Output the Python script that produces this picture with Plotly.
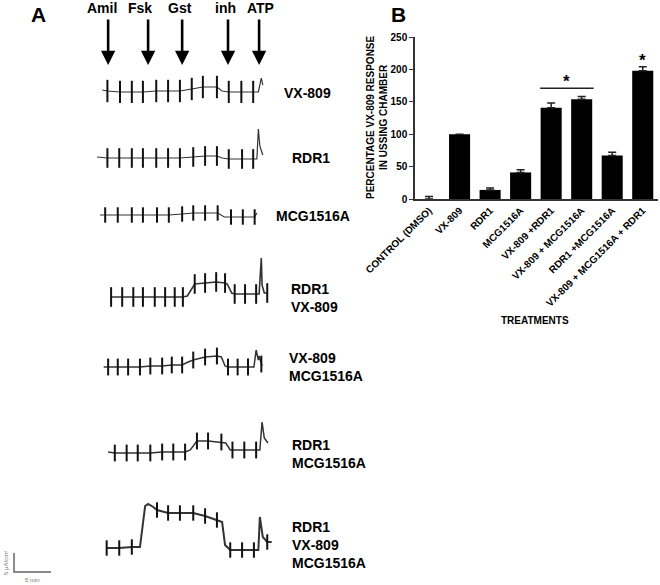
import plotly.graph_objects as go

W, H = 660, 585
FONT = "Liberation Sans, Arial, sans-serif"

# ---------------- Panel B data ----------------
treatments = ["CONTROL (DMSO)", "VX-809", "RDR1", "MCG1516A", "VX-809 +RDR1",
              "VX-809 + MCG1516A", "RDR1 +MCG1516A", "VX-809 + MCG1516A + RDR1"]
response_pct = [0, 100, 14, 41, 141, 154, 67, 198]
response_sem = [4, 0, 3, 4, 7, 4, 5, 6]
y_ticks = [0, 50, 100, 150, 200, 250]
sig_group = [4, 5]          # categories joined by the significance bar
sig_bar_y = 171
sig_star_y = [181, 213]
sig_star_x = [4.5, 7]

# ---------------- Panel A data (time in min, current in uA/cm2 rel. baseline) ----------------
drugs = ["Amil", "Fsk", "Gst", "inh", "ATP"]
drug_t = [1.1, 6.5, 11.1, 17.3, 21.5]

vx_t = [0.3, 1.0, 2.7, 4.3, 5.8, 7.6, 9.2, 10.8, 12.4, 13.9, 15.8, 16.5, 17.4, 19.1, 20.7, 21.4, 21.8, 22.0]
vx_i = [0.26, 0, -0.26, -0.26, -0.26, 0, 0, 0, 0.53, 1.05, 1.05, 0, -0.26, -0.26, -0.26, -0.26, 3.42, 1.58]
vx_p = [1, 2, 3, 4, 5, 6, 7, 8, 9, 10, 12, 13, 14]

rdr_t = [-0.4, 1.0, 2.6, 4.3, 5.8, 7.6, 9.2, 10.8, 12.6, 14.2, 15.8, 16.5, 17.4, 19.2, 20.7, 21.2, 21.4, 21.6, 22.0]
rdr_i = [0.26, 0, 0, 0, 0, 0, 0, 0, 0.26, 0.53, 0.53, 0, -0.26, -0.26, -0.26, -0.26, 7.63, 3.16, 0.79]
rdr_p = [1, 2, 3, 4, 5, 6, 7, 8, 9, 10, 12, 13, 14]

mcg_t = [0, 0.7, 2.4, 4.3, 5.8, 7.7, 9.3, 11.1, 12.6, 14.2, 15.9, 16.8, 17.7, 19.3, 20.9, 21.2]
mcg_i = [0, 0, 0, 0, 0, 0, 0, 0.26, 0.53, 0.53, 0.53, -0.53, -0.53, -0.53, -0.53, 0.53]
mcg_p = [1, 2, 3, 4, 5, 6, 7, 8, 9, 10, 12, 13, 14]

rv_t = [1.4, 1.5, 3.0, 4.5, 5.8, 7.4, 8.8, 10.1, 11.2, 11.8, 12.8, 14.2, 15.7, 16.9, 17.2, 17.8,
        18.2, 19.6, 21.1, 21.5, 21.8, 21.9, 22.2, 22.6, 22.7]
rv_i = [0, 0, 0, 0, 0, 0, 0, 0, 0, 0.26, 3.42, 3.68, 3.95, 3.68, 3.42, 1.05,
        0.79, 0.79, 0.79, 0.79, 10.26, 3.16, 1.05, 1.05, 1.05]
rv_p = [1, 2, 3, 4, 5, 6, 7, 8, 10, 11, 12, 13, 16, 17, 18, 23]

vm_t = [0.5, 1.1, 2.4, 3.8, 5.4, 6.8, 8.4, 9.7, 11.1, 11.9, 12.6, 14.2, 15.8, 16.4, 16.9, 17.3,
        18.6, 20.0, 20.8, 21.1, 21.4, 21.5, 21.8, 21.9]
vm_i = [0, 0, 0, 0, 0, 0.26, 0.26, 0.53, 0.53, 1.32, 1.84, 2.63, 2.89, 2.63, 0.26, 0,
        0, 0, 0, 4.47, 1.84, 2.89, 0.79, 0.26]
vm_p = [1, 2, 3, 4, 5, 6, 7, 8, 10, 11, 12, 15, 16, 17, 22]

rm_t = [1.1, 2.0, 3.6, 5.1, 6.8, 8.4, 9.9, 11.5, 12.2, 13.1, 14.6, 16.4, 17.0, 17.6, 17.9, 19.5,
        21.1, 21.6, 21.9, 22.2, 22.7]
rm_i = [0.26, 0, 0, 0, 0, 0.26, 0.26, 0.26, 0.79, 3.16, 3.16, 2.89, 2.63, 0.79, 0.79, 0.79,
        0.79, 0.79, 8.16, 3.95, 2.63]
rm_p = [1, 2, 3, 4, 5, 6, 7, 9, 10, 11, 14, 15, 16]

all_t = [0.9, 2.6, 4.3, 5.4, 6.1, 6.5, 7.2, 7.7, 9.2, 10.8, 12.6, 14.2, 15.8, 16.5, 16.9, 17.3,
         17.6, 19.2, 20.8, 21.4, 21.6, 22.0, 22.6, 23.2]
all_i = [0, 0, 0.26, 0.26, 11.05, 11.58, 10.79, 10.0, 9.21, 9.21, 9.21, 8.42, 7.37, 6.84, 0.79, 0,
         -0.53, -0.53, -0.53, -0.53, 8.16, 2.89, 1.58, 1.58]
all_p = [0, 1, 2, 7, 8, 9, 10, 11, 12, 16, 17, 18, 22]

trace_labels = ["VX-809", "RDR1", "MCG1516A", "RDR1<br>VX-809", "VX-809<br>MCG1516A",
                "RDR1<br>MCG1516A", "RDR1<br>VX-809<br>MCG1516A"]
trace_data = [(vx_t, vx_i, vx_p), (rdr_t, rdr_i, rdr_p), (mcg_t, mcg_i, mcg_p), (rv_t, rv_i, rv_p),
              (vm_t, vm_i, vm_p), (rm_t, rm_i, rm_p), (all_t, all_i, all_p)]
scale_min = 5
scale_ua = 5

# ---------------- layout / style (pixels) ----------------
baseline_px = [91, 158, 215, 297, 367, 453, 548]
pulse_size = [16, 14, 11, 14, 12, 12, 11]
line_w = [1.2, 1.2, 1.2, 1.6, 1.5, 1.5, 2.0]
label_px = [(282, 93), (290, 158), (274, 216), (289, 298), (287, 366.5), (290, 454), (290, 545)]
PX_PER_MIN = 7.4
PX_PER_UA = 3.8
T0_PX = 100
UP, DOWN = 55, 35


def fx(px):
    return px / W


def fy(py):
    return 1 - py / H


fig = go.Figure()

# Panel B bars
fig.add_trace(go.Bar(
    x=treatments, y=response_pct, marker=dict(color="black", line=dict(width=0)),
    width=0.69,
    error_y=dict(type="data", array=response_sem, arrayminus=[0] * len(response_sem),
                 symmetric=False, color="#222", thickness=1.5, width=4),
    xaxis="x", yaxis="y", showlegend=False))

# Panel A traces
for k, (tt, ii, pp) in enumerate(trace_data):
    ya = "y%d" % (k + 2)
    fig.add_trace(go.Scatter(x=tt, y=ii, mode="lines", line=dict(color="#333", width=line_w[k]),
                             xaxis="x2", yaxis=ya, showlegend=False, hoverinfo="skip"))
    fig.add_trace(go.Scatter(x=[tt[j] for j in pp], y=[ii[j] for j in pp], mode="markers",
                             marker=dict(symbol="line-ns", size=pulse_size[k],
                                         line=dict(width=2, color="#111")),
                             xaxis="x2", yaxis=ya, showlegend=False, hoverinfo="skip"))

layout = dict(
    template="none",
    width=W, height=H, margin=dict(l=0, r=0, t=0, b=0, pad=0, autoexpand=False),
    paper_bgcolor="white", plot_bgcolor="white",
    font=dict(family=FONT, color="black"),
    bargap=0.3,
    xaxis=dict(domain=[fx(415), fx(658)], range=[-0.46, 7.5], type="category",
               showline=True, linecolor="#333", linewidth=1.5, ticks="",
               tickangle=-45, tickfont=dict(size=10, weight="bold", family=FONT),
               showgrid=False, zeroline=False, anchor="y", automargin=False),
    yaxis=dict(domain=[fy(199), fy(37)], range=[0, 250], tickvals=y_ticks,
               showline=True, linecolor="#333", linewidth=1.5, ticks="outside",
               ticklen=4, tickwidth=1.3, tickcolor="#333",
               tickfont=dict(size=10, weight="bold", family=FONT),
               showgrid=False, zeroline=False, anchor="x", automargin=False),
    xaxis2=dict(domain=[0, fx(330)], range=[-T0_PX / PX_PER_MIN, (330 - T0_PX) / PX_PER_MIN],
                visible=False, anchor="y2", automargin=False),
)
for k, yb in enumerate(baseline_px):
    layout["yaxis%d" % (k + 2)] = dict(
        domain=[fy(yb + DOWN), fy(yb - UP)], range=[-DOWN / PX_PER_UA, UP / PX_PER_UA],
        visible=False, anchor="x2", automargin=False)

C = dict(xanchor="center", yanchor="middle", showarrow=False)
ann = []
# panel letters
ann.append(dict(text="A", x=fx(38), y=fy(14), xref="paper", yref="paper",
                font=dict(size=21, weight="bold"), **C))
ann.append(dict(text="B", x=fx(398), y=fy(14), xref="paper", yref="paper",
                font=dict(size=21, weight="bold"), **C))
# drug arrows
label_dx = [-6, -8, -2, -3, 1]
for d, t, dx in zip(drugs, drug_t, label_dx):
    ann.append(dict(text="", x=t, y=fy(65), xref="x2", yref="paper", ax=0, ay=-47,
                    showarrow=True, arrowhead=2, arrowsize=1.1, arrowwidth=2.6, arrowcolor="black"))
    ann.append(dict(text=d, x=t, y=fy(8), xref="x2", yref="paper", xshift=dx,
                    font=dict(size=14, weight="bold"), **C))
# trace labels
for lab, (lx, ly) in zip(trace_labels, label_px):
    ann.append(dict(text=lab, x=fx(lx), y=fy(ly), xref="paper", yref="paper", showarrow=False,
                    xanchor="left", yanchor="middle", align="left",
                    font=dict(size=14, weight="bold")))
# panel B titles and stars
ann.append(dict(text="PERCENTAGE VX-809 RESPONSE<br>IN USSING CHAMBER", x=fx(377), y=fy(117),
                xref="paper", yref="paper", textangle=-90,
                font=dict(size=10, weight="bold"), **C))
ann.append(dict(text="TREATMENTS", x=fx(535), y=fy(320), xref="paper", yref="paper",
                font=dict(size=10, weight="bold"), **C))
for sx, sy in zip(sig_star_x, sig_star_y):
    ann.append(dict(text="*", x=sx, y=sy, xref="x", yref="y",
                    font=dict(size=17, weight="bold"), **C))
# scale bar texts
ann.append(dict(text="5 min", x=fx(32), y=fy(580), xref="paper", yref="paper",
                font=dict(size=6, color="#777"), **C))
ann.append(dict(text="5 μA/cm²", x=fx(6), y=fy(563), xref="paper", yref="paper",
                textangle=-90, font=dict(size=6, color="#777"), **C))
layout["annotations"] = ann

shapes = []
shapes.append(dict(type="line", xref="x", yref="y", x0=sig_group[0] - 0.36, x1=sig_group[1] + 0.39,
                   y0=sig_bar_y, y1=sig_bar_y, line=dict(color="#222", width=1.6)))
sx0 = (14 - T0_PX) / PX_PER_MIN
sy0 = -(572 - baseline_px[6]) / PX_PER_UA
shapes.append(dict(type="path", xref="x2", yref="y8",
                   path="M %f,%f L %f,%f L %f,%f" % (sx0, sy0 + scale_ua, sx0, sy0, sx0 + scale_min, sy0),
                   line=dict(color="#666", width=1.5)))
layout["shapes"] = shapes

fig.update_layout(**layout)
fig.write_html("out.html", config={"displayModeBar": False},
               post_script="document.body.style.margin='0';document.body.style.overflow='hidden';")
